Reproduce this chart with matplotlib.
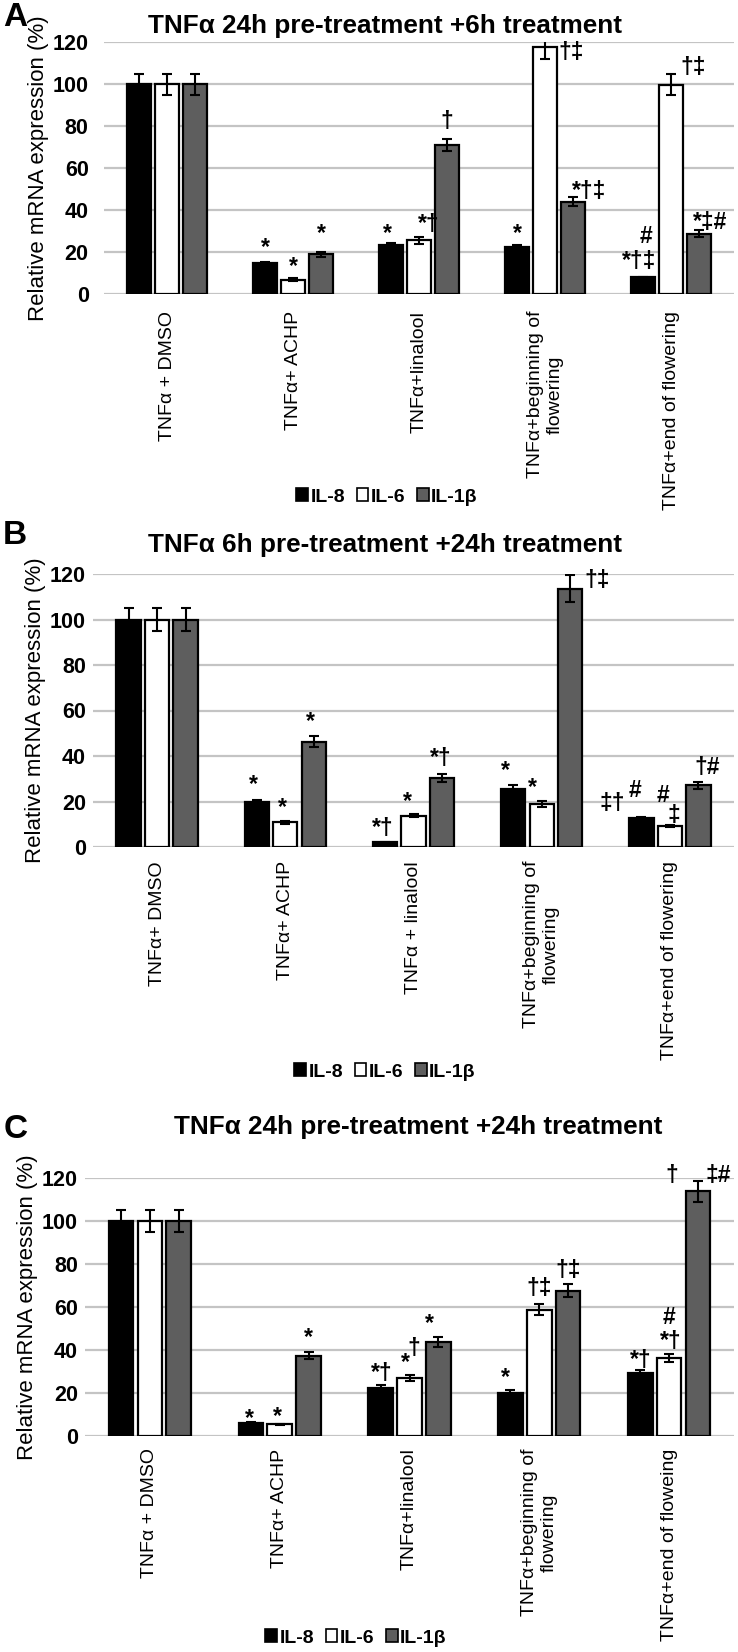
import matplotlib
matplotlib.use("Agg")
import matplotlib.pyplot as plt
from matplotlib.patches import Patch
import numpy as np

plt.rcParams['font.family'] = ['Liberation Sans', 'DejaVu Sans']

# ---------------- data ----------------
series = ["IL-8", "IL-6", "IL-1β"]
yticks = [0, 20, 40, 60, 80, 100, 120]

titles = ["TNFα 24h pre-treatment +6h treatment",
          "TNFα 6h pre-treatment +24h treatment",
          "TNFα 24h pre-treatment +24h treatment"]
panel_letters = ["A", "B", "C"]

categories_A = ["TNFα + DMSO", "TNFα+ ACHP", "TNFα+linalool",
                "TNFα+beginning of\nflowering", "TNFα+end of flowering"]
categories_B = ["TNFα+ DMSO", "TNFα+ ACHP", "TNFα + linalool",
                "TNFα+beginning of\nflowering", "TNFα+end of flowering"]
categories_C = ["TNFα + DMSO", "TNFα+ ACHP", "TNFα+linalool",
                "TNFα+beginning of\nflowering", "TNFα+end of floweing"]

A_il8 = [100, 14.8, 23.3, 22.5, 7.9]
A_il6 = [100, 6.8, 25.5, 117.6, 99.6]
A_il1b = [100, 19.0, 71.0, 44.0, 28.8]
A_il8_err = [5, 0.5, 1.2, 0.6, 0.3]
A_il6_err = [5, 0.6, 1.5, 5.5, 5.0]
A_il1b_err = [5, 1.2, 3.0, 2.3, 1.5]

B_il8 = [100, 19.6, 2.0, 25.5, 12.7]
B_il6 = [100, 10.9, 13.8, 18.9, 9.2]
B_il1b = [100, 46.3, 30.5, 113.5, 27.2]
B_il8_err = [5, 1.2, 0.3, 1.8, 0.4]
B_il6_err = [5, 0.6, 0.6, 1.2, 0.6]
B_il1b_err = [5, 2.3, 1.8, 6.0, 1.5]

C_il8 = [100, 6.1, 22.3, 19.8, 29.1]
C_il6 = [100, 5.5, 26.9, 58.8, 36.3]
C_il1b = [100, 37.4, 43.6, 67.5, 113.8]
C_il8_err = [5, 0.5, 1.2, 1.5, 1.8]
C_il6_err = [5, 0.3, 1.3, 2.5, 1.8]
C_il1b_err = [5, 1.8, 2.3, 3.0, 5.0]

# significance marks: (group, series, text)
marks_A = [(1, 0, "*"), (1, 1, "*"), (1, 2, "*"),
           (2, 0, "*"), (2, 1, "*†"), (2, 2, "†"),
           (3, 0, "*"), (3, 1, "†‡"), (3, 2, "*†‡"),
           (4, 0, "#"), (4, 0, "*†‡"), (4, 1, "†‡"), (4, 2, "*‡#")]
marks_B = [(1, 0, "*"), (1, 1, "*"), (1, 2, "*"),
           (2, 0, "*†"), (2, 1, "*"), (2, 2, "*†"),
           (3, 0, "*"), (3, 1, "*"), (3, 2, "†‡"),
           (4, 0, "‡†"), (4, 0, "#"), (4, 1, "#"), (4, 1, "‡"), (4, 2, "†#")]
marks_C = [(1, 0, "*"), (1, 1, "*"), (1, 2, "*"),
           (2, 0, "*†"), (2, 1, "*"), (2, 1, "†"), (2, 2, "*"),
           (3, 0, "*"), (3, 1, "†‡"), (3, 2, "†‡"),
           (4, 0, "*†"), (4, 1, "#"), (4, 1, "*†"), (4, 2, "†"), (4, 2, "‡#")]

# ---------------- layout (positions of marks: dx in group units, y in data units) ----------------
marks_pos_A = [(0, 22), (0, 13), (0, 29),
               (-0.03, 29), (0.08, 33), (0, 82),
               (0, 29), (0.21, 115), (0.13, 49),
               (0.02, 27.5), (-0.03, 15.5), (0.18, 108), (0.09, 34)]
marks_pos_B = [(-0.03, 27.6), (-0.02, 17.5), (-0.03, 55),
               (-0.02, 8), (-0.05, 20), (-0.01, 39),
               (-0.06, 33.5), (-0.07, 26), (0.21, 117),
               (-0.23, 19), (-0.05, 24.7), (-0.05, 22.5), (0.03, 14), (0.07, 35)]
marks_pos_C = [(-0.01, 8), (-0.02, 9), (0, 46),
               (0.01, 29), (-0.03, 34), (0.03, 40.5), (-0.07, 52.5),
               (-0.04, 27), (0, 68.6), (0, 77),
               (0, 35), (0, 55), (0.01, 44), (-0.2, 121), (0.16, 121)]

W, H = 738, 1652
fig = plt.figure(figsize=(W / 100, H / 100), dpi=100)

colors = ["#000000", "#ffffff", "#5e5e5e"]
bar_w = 0.19
offset = 0.222

panels = [
    dict(cats=categories_A, vals=[A_il8, A_il6, A_il1b], errs=[A_il8_err, A_il6_err, A_il1b_err],
         marks=marks_A, mpos=marks_pos_A, box=(104, 42, 734, 294), ypad=11, xpad=12,
         title_xy=(385, 26), letter_xy=(15, 17), legend_xy=(387, 497)),
    dict(cats=categories_B, vals=[B_il8, B_il6, B_il1b], errs=[B_il8_err, B_il6_err, B_il1b_err],
         marks=marks_B, mpos=marks_pos_B, box=(93, 574, 734, 847), ypad=5, xpad=10,
         title_xy=(385, 545), letter_xy=(15, 535), legend_xy=(385, 1072)),
    dict(cats=categories_C, vals=[C_il8, C_il6, C_il1b], errs=[C_il8_err, C_il6_err, C_il1b_err],
         marks=marks_C, mpos=marks_pos_C, box=(85, 1178, 734, 1436), ypad=5, xpad=9,
         title_xy=(418, 1127), letter_xy=(16, 1130), legend_xy=(356, 1638)),
]

for i, p in enumerate(panels):
    l, t, r, b = p["box"]
    ax = fig.add_axes([l / W, 1 - b / H, (r - l) / W, (b - t) / H])
    x = np.arange(len(p["cats"]))
    for s in range(3):
        ax.bar(x + (s - 1) * offset, p["vals"][s], width=bar_w, color=colors[s],
               edgecolor="black", linewidth=1.6, zorder=3)
        ax.errorbar(x + (s - 1) * offset, p["vals"][s], yerr=p["errs"][s], fmt="none",
                    ecolor="black", elinewidth=1.5, capsize=3.5, capthick=1.5, zorder=4)
    ax.set_xlim(-0.5, len(p["cats"]) - 0.5)
    ax.set_ylim(0, 120)
    ax.set_yticks(yticks)
    ax.set_yticklabels([str(v) for v in yticks], fontsize=15.5, fontweight="bold")
    ax.set_xticks(x)
    ax.set_xticklabels(p["cats"], rotation=90, fontsize=14, va="top", ha="center",
                       multialignment="center")
    ax.tick_params(axis="y", length=0, pad=p["ypad"])
    ax.tick_params(axis="x", length=0, pad=p["xpad"])
    ax.yaxis.grid(True, color="#c4c4c4", linewidth=1.6, zorder=0)
    ax.set_axisbelow(True)
    for sp in ax.spines.values():
        sp.set_visible(False)
    ax.set_ylabel("Relative mRNA expression (%)", fontsize=16, labelpad=3)

    for (g, s, txt), (dx, yy) in zip(p["marks"], p["mpos"]):
        ax.text(g + (s - 1) * offset + dx, yy, txt, ha="center", va="center",
                fontsize=16.5, fontweight="bold", clip_on=False, zorder=5)

    tx, ty = p["title_xy"]
    fig.text(tx / W, 1 - ty / H, titles[i], ha="center", va="center",
             fontsize=18.8, fontweight="bold")
    lx, ly = p["letter_xy"]
    fig.text(lx / W, 1 - ly / H, panel_letters[i], ha="center", va="center",
             fontsize=24, fontweight="bold")
    handles = [Patch(facecolor=colors[s], edgecolor="black", linewidth=1.2) for s in range(3)]
    gx, gy = p["legend_xy"]
    fig.legend(handles, series, loc="center", bbox_to_anchor=(gx / W, 1 - gy / H),
               ncol=3, frameon=False, prop=dict(size=14, weight="bold"),
               handlelength=0.6, handleheight=0.6,
               handletextpad=0.12, columnspacing=0.6, borderpad=0)

fig.savefig("out.png", dpi=100)
